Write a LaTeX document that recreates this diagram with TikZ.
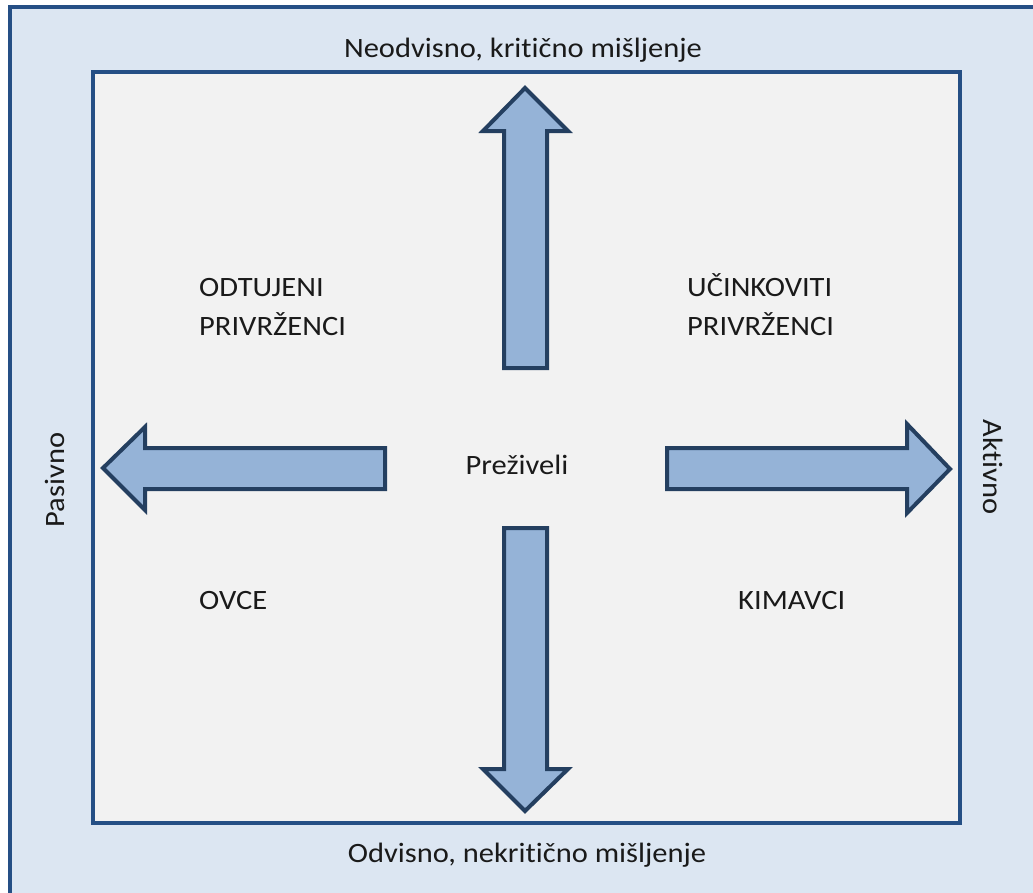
\documentclass[tikz,border=0pt]{standalone}
\usepackage{fontspec}
\setmainfont{Carlito}[FakeStretch=1.09,Ligatures=NoCommon]
\definecolor{outerfill}{HTML}{DCE6F2}
\definecolor{innerfill}{HTML}{F2F2F2}
\definecolor{framecol}{HTML}{254F85}
\definecolor{arrowfill}{HTML}{95B3D7}
\definecolor{arrowline}{HTML}{243F60}
\definecolor{txt}{HTML}{1A1A1A}
\begin{document}
\begin{tikzpicture}[x=1pt,y=-1pt,
  frame/.style={draw=framecol,line width=4pt},
  bigarrow/.style={draw=arrowline,fill=arrowfill,line width=4pt,line join=miter},
  lbl/.style={inner sep=0pt,text=txt,font=\fontsize{28}{30}\selectfont},
  axis/.style={inner sep=0pt,text=txt,font=\fontsize{28}{30}\selectfont}]
\useasboundingbox (0,0) rectangle (1033,892);
\clip (0,0) rectangle (1033,892);
\fill[white] (0,0) rectangle (1033,892);
\draw[frame,fill=outerfill] (10,7) rectangle (1060,920);
\draw[frame,fill=innerfill] (93,72) rectangle (960,823);
% arrows
\draw[bigarrow] (525,88) -- (568,131) -- (547,131) -- (547,368) -- (504,368) -- (504,131) -- (483,131) -- cycle;
\draw[bigarrow] (525,811) -- (568,769) -- (547,769) -- (547,528) -- (504,528) -- (504,769) -- (483,769) -- cycle;
\draw[bigarrow] (103,468) -- (145,427) -- (145,448) -- (385,448) -- (385,489) -- (145,489) -- (145,510) -- cycle;
\draw[bigarrow] (950,469) -- (907,424) -- (907,448) -- (667,448) -- (667,489) -- (907,489) -- (907,513) -- cycle;
% texts
\node[axis,anchor=base] (top) at (523,57) {Neodvisno, kritično mišljenje};
\node[axis,anchor=base] (bottom) at (527,862) {Odvisno, nekritično mišljenje};
\node[axis,anchor=base,rotate=90] (pas) at (64,480) {Pasivno};
\node[axis,anchor=base,rotate=-90] (akt) at (983,467) {Aktivno};
\node[lbl,anchor=base west] (odt1) at (199,296) {ODTUJENI};
\node[lbl,anchor=base west] (odt2) at (199,335) {PRIVRŽENCI};
\node[lbl,anchor=base west] (uc1) at (687,296) {UČINKOVITI};
\node[lbl,anchor=base west] (uc2) at (687,335) {PRIVRŽENCI};
\node[lbl,anchor=base] (prez) at (517,474) {Preživeli};
\node[lbl,anchor=base west] (ovce) at (199,609) {OVCE};
\node[lbl,anchor=base west] (kim) at (738,609) {KIMAVCI};
\end{tikzpicture}
\end{document}
